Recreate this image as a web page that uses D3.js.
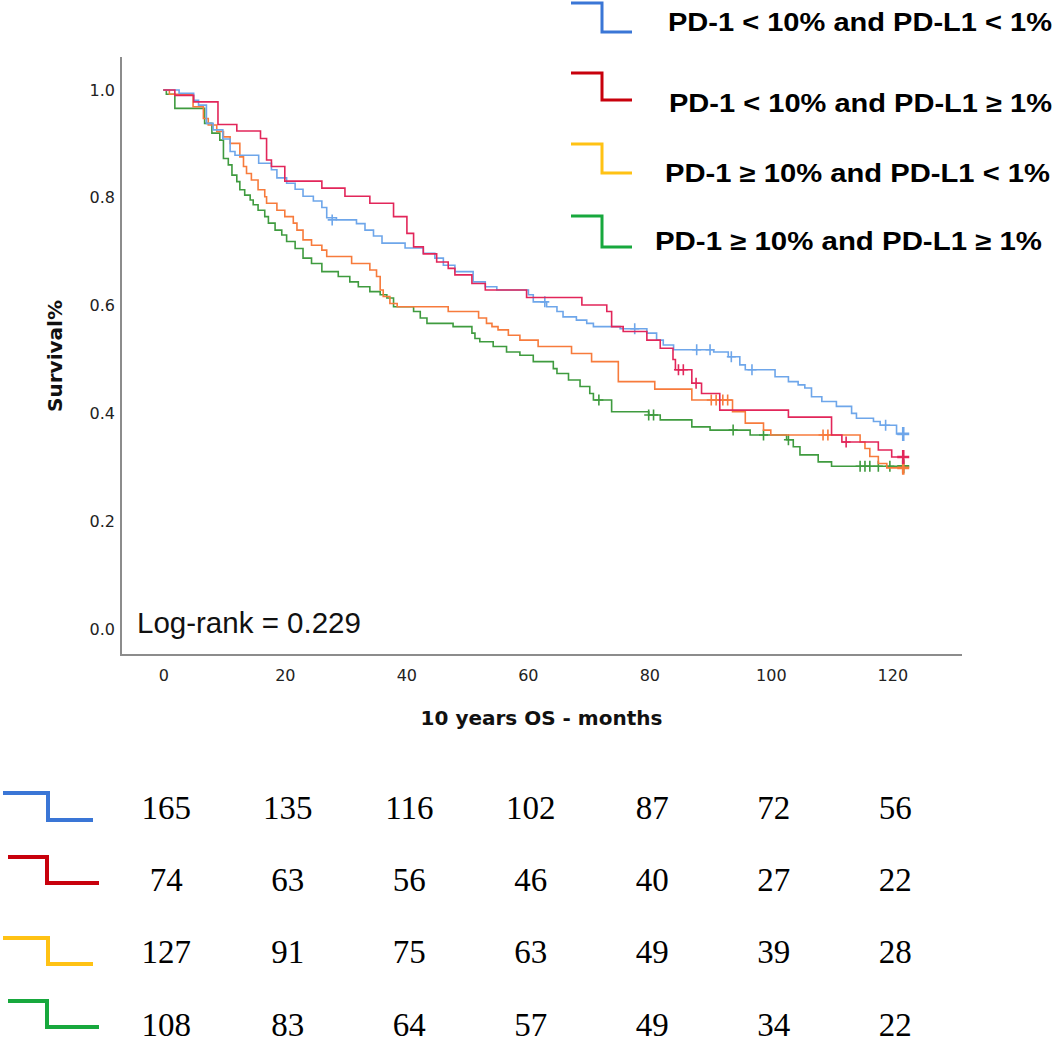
<!DOCTYPE html>
<html>
<head>
<meta charset="utf-8">
<script src="https://cdn.jsdelivr.net/npm/d3@7"></script>
<style>
  html, body { margin: 0; padding: 0; background: #fff; }
  svg { display: block; }
</style>
</head>
<body>
<script>
// groups (legend order)
const groups = [
  'PD-1 < 10% and PD-L1 < 1%',
  'PD-1 < 10% and PD-L1 ≥ 1%',
  'PD-1 ≥ 10% and PD-L1 < 1%',
  'PD-1 ≥ 10% and PD-L1 ≥ 1%'
]

// Kaplan-Meier steps: [month, survival after drop]
const blueSteps = [[0,1],[2.6,0.994],[5.0,0.981],[5.8,0.972],[7.1,0.938],[8.2,0.926],[9.8,0.909],[11.0,0.886],[11.8,0.879],[15.7,0.864],[17.8,0.852],[18.7,0.837],[20.3,0.827],[21.7,0.816],[23.0,0.803],[24.7,0.794],[26.1,0.782],[26.9,0.763],[28.5,0.759],[31.8,0.752],[33.2,0.740],[34.6,0.729],[36.0,0.716],[39.8,0.707],[42.8,0.697],[44.7,0.688],[46.1,0.675],[48.0,0.663],[51.0,0.644],[53.0,0.635],[54.9,0.629],[60.1,0.620],[60.9,0.607],[63.1,0.598],[64.8,0.589],[65.8,0.579],[68.0,0.573],[69.7,0.567],[70.8,0.561],[75.2,0.557],[79.6,0.549],[81.2,0.536],[82.3,0.527],[84.0,0.518],[90.6,0.514],[93.0,0.505],[94.9,0.490],[95.8,0.481],[100.7,0.468],[102.9,0.459],[104.5,0.453],[105.6,0.447],[106.7,0.431],[108.4,0.422],[110.8,0.413],[113.3,0.400],[114.1,0.391],[116.9,0.385],[118.0,0.378],[120.7,0.362]]
const redSteps = [[0,1],[1.9,0.990],[5.0,0.978],[9.0,0.936],[12.1,0.924],[16.0,0.910],[17.0,0.870],[17.8,0.858],[20.0,0.831],[26.1,0.818],[29.9,0.803],[34.0,0.790],[37.9,0.765],[40.1,0.734],[41.2,0.709],[42.8,0.696],[45.0,0.681],[46.9,0.669],[48.0,0.657],[50.8,0.641],[53.0,0.629],[59.8,0.615],[68.9,0.601],[73.0,0.589],[73.8,0.561],[75.7,0.552],[79.6,0.536],[81.8,0.521],[83.9,0.500],[84.3,0.481],[87.0,0.456],[88.6,0.437],[91.6,0.406],[102.9,0.393],[110.0,0.360],[111.7,0.347],[117.7,0.332],[119.9,0.319]]
const orangeSteps = [[0,1],[1.0,0.992],[4.9,0.969],[6.6,0.947],[7.4,0.935],[8.8,0.923],[9.9,0.913],[11.0,0.901],[12.6,0.876],[13.2,0.858],[13.7,0.845],[14.5,0.833],[15.6,0.815],[16.7,0.802],[17.0,0.790],[18.7,0.777],[20.0,0.765],[21.4,0.753],[22.0,0.740],[23.0,0.722],[24.4,0.712],[26.1,0.703],[26.9,0.691],[31.0,0.678],[34.0,0.666],[35.1,0.654],[35.7,0.629],[36.2,0.617],[37.3,0.604],[38.5,0.598],[46.9,0.589],[51.9,0.577],[53.2,0.567],[54.1,0.561],[55.1,0.555],[56.8,0.545],[58.7,0.536],[61.7,0.524],[67.2,0.511],[70.5,0.496],[74.9,0.459],[80.9,0.445],[87.0,0.425],[93.7,0.403],[95.8,0.382],[98.8,0.369],[100.0,0.360],[114.7,0.347],[115.5,0.335],[116.3,0.320],[117.7,0.307],[119.1,0.299]]
const greenSteps = [[0,1],[0.5,0.992],[1.9,0.966],[6.8,0.938],[8.0,0.920],[9.3,0.907],[9.9,0.873],[10.7,0.861],[11.3,0.842],[12.1,0.830],[12.6,0.815],[13.4,0.805],[14.3,0.796],[14.8,0.787],[15.6,0.777],[16.7,0.765],[17.3,0.753],[18.4,0.740],[19.5,0.731],[20.3,0.719],[21.7,0.706],[23.0,0.688],[24.4,0.678],[26.1,0.663],[28.8,0.654],[30.7,0.644],[32.1,0.635],[34.0,0.626],[35.7,0.620],[36.8,0.614],[37.9,0.598],[41.2,0.589],[42.3,0.577],[43.4,0.567],[47.7,0.561],[50.8,0.549],[51.3,0.539],[52.1,0.533],[54.3,0.524],[56.5,0.514],[58.7,0.508],[60.9,0.496],[64.2,0.483],[64.8,0.474],[66.7,0.462],[68.6,0.450],[70.2,0.437],[70.8,0.425],[73.8,0.403],[79.9,0.397],[81.8,0.388],[87.0,0.375],[90.0,0.369],[96.6,0.360],[102.6,0.351],[103.7,0.338],[104.8,0.323],[107.8,0.310],[110.0,0.302]]

// censored observations: [month, survival]
const blueCensored = [[27.8,0.759],[62.8,0.607],[77.6,0.557],[87.8,0.518],[90.0,0.518],[93.5,0.505],[96.9,0.481],[118.9,0.378],[121.8,0.362]]
const redCensored = [[84.8,0.481],[85.6,0.481],[87.7,0.456],[112.4,0.347],[121.8,0.319]]
const orangeCensored = [[90.2,0.425],[91.0,0.425],[92.1,0.425],[92.9,0.425],[108.6,0.360],[109.4,0.360],[121.8,0.299]]
const greenCensored = [[71.7,0.425],[79.9,0.397],[80.7,0.397],[93.8,0.369],[98.8,0.360],[102.9,0.351],[114.7,0.302],[115.5,0.302],[116.3,0.302],[117.7,0.302],[119.6,0.302],[121.8,0.302]]

const followUpEnd = [121.8, 121.8, 121.8, 121.8]

// numbers at risk
const riskTimes = [0, 20, 40, 60, 80, 100, 120]
const riskBlue = [165, 135, 116, 102, 87, 72, 56]
const riskRed = [74, 63, 56, 46, 40, 27, 22]
const riskOrange = [127, 91, 75, 63, 49, 39, 28]
const riskGreen = [108, 83, 64, 57, 49, 34, 22]

const xTicks = [0, 20, 40, 60, 80, 100, 120]
const yTicks = [0, 0.2, 0.4, 0.6, 0.8, 1.0]

const steps = [blueSteps, redSteps, orangeSteps, greenSteps]
const censored = [blueCensored, redCensored, orangeCensored, greenCensored]
const risk = [riskBlue, riskRed, riskOrange, riskGreen]

let curveColors = ['#6ea6ea', '#e2265a', '#f77b3c', '#3f9b3f']
let keyColors = ['#3a76d6', '#c8000c', '#ffc214', '#17a83d']

let width = 1063
let height = 1042
let frame = { left: 121, top: 57, right: 962, bottom: 655 }

let svg = d3.select('body').append('svg')
  .attr('width', width)
  .attr('height', height)

//scales
let xScale = d3.scaleLinear().domain([0, 120]).range([163.3, 892.3])
let yScale = d3.scaleLinear().domain([0, 1]).range([629, 90])

// axes lines
svg.append('path')
  .attr('d', `M${frame.left},${frame.top}V${frame.bottom}H${frame.right}`)
  .attr('fill', 'none')
  .attr('stroke', '#8c8c8c')
  .attr('stroke-width', 2)

let yAxis = svg.append('g')
  .attr('transform', `translate(${frame.left},0)`)
  .call(d3.axisLeft(yScale).tickValues(yTicks).tickFormat(d3.format('.1f')).tickSize(0).tickPadding(6))
yAxis.select('.domain').remove()
yAxis.selectAll('text')
  .attr('font-family', 'DejaVu Sans, sans-serif')
  .attr('font-size', 16)
  .attr('fill', '#222')

let xAxis = svg.append('g')
  .attr('transform', `translate(0,${frame.bottom})`)
  .call(d3.axisBottom(xScale).tickValues(xTicks).tickSize(0).tickPadding(15))
xAxis.select('.domain').remove()
xAxis.selectAll('text')
  .attr('font-family', 'DejaVu Sans, sans-serif')
  .attr('font-size', 16)
  .attr('fill', '#222')

// axis titles
svg.append('text')
  .attr('x', (frame.left + frame.right) / 2)
  .attr('y', 725)
  .attr('text-anchor', 'middle')
  .attr('font-family', 'DejaVu Sans, sans-serif')
  .attr('font-weight', 'bold')
  .attr('font-size', 20)
  .attr('fill', '#111')
  .text('10 years OS - months')

svg.append('text')
  .attr('transform', 'translate(62,356) rotate(-90)')
  .attr('text-anchor', 'middle')
  .attr('font-family', 'DejaVu Sans, sans-serif')
  .attr('font-weight', 'bold')
  .attr('font-size', 20)
  .attr('fill', '#111')
  .text('Survival%')

// curves (drawn so red ends on top)
let line = d3.line()
  .x(d => xScale(d[0]))
  .y(d => yScale(d[1]))
  .curve(d3.curveStepAfter)

let order = [3, 2, 0, 1]
order.forEach(i => {
  let pts = steps[i].concat([[followUpEnd[i], steps[i][steps[i].length - 1][1]]])
  svg.append('path')
    .datum(pts)
    .attr('d', line)
    .attr('fill', 'none')
    .attr('stroke', curveColors[i])
    .attr('stroke-width', 1.6)

  svg.append('g')
    .selectAll('path')
    .data(censored[i])
    .enter()
    .append('path')
    .attr('d', (d, j) => {
      let cx = xScale(d[0]), cy = yScale(d[1])
      let s = j === censored[i].length - 1 ? 6 : 4.5
      return `M${cx - s},${cy}H${cx + s}M${cx},${cy - s - 1}V${cy + s + 1}`
    })
    .attr('stroke', curveColors[i])
    .attr('stroke-width', (d, j) => j === censored[i].length - 1 ? 2.6 : 1.6)
    .attr('fill', 'none')
})

// log-rank note
svg.append('text')
  .attr('x', 137)
  .attr('y', 633)
  .attr('font-family', 'Liberation Sans, Arial, sans-serif')
  .attr('font-size', 29.5)
  .attr('fill', '#111')
  .text('Log-rank = 0.229')

// legend
let legendRows = [
  { top: 3, bottom: 32, base: 31, tx: 668, tw: 384 },
  { top: 73, bottom: 100, base: 112, tx: 669, tw: 383 },
  { top: 144, bottom: 173, base: 182, tx: 665, tw: 385 },
  { top: 216, bottom: 247, base: 250, tx: 655, tw: 387 }
]
let legend = svg.append('g')
groups.forEach((g, i) => {
  let r = legendRows[i]
  legend.append('path')
    .attr('d', `M571,${r.top}H602V${r.bottom}H632`)
    .attr('fill', 'none')
    .attr('stroke', keyColors[i])
    .attr('stroke-width', 3)
  legend.append('text')
    .attr('x', r.tx)
    .attr('y', r.base)
    .attr('font-family', 'Liberation Sans, Arial, sans-serif')
    .attr('font-weight', 'bold')
    .attr('font-size', 25)
    .attr('textLength', r.tw)
    .attr('lengthAdjust', 'spacingAndGlyphs')
    .attr('fill', '#000')
    .text(g)
})

// numbers at risk table
let riskRows = [
  { top: 793, bottom: 820, x0: 3, x1: 48, x2: 93, base: 819 },
  { top: 857, bottom: 883, x0: 8, x1: 47, x2: 99, base: 891 },
  { top: 938, bottom: 964, x0: 3, x1: 48, x2: 93, base: 963 },
  { top: 1001, bottom: 1027, x0: 8, x1: 47, x2: 99, base: 1036 }
]
risk.forEach((row, i) => {
  let r = riskRows[i]
  svg.append('path')
    .attr('d', `M${r.x0},${r.top}H${r.x1}V${r.bottom}H${r.x2}`)
    .attr('fill', 'none')
    .attr('stroke', keyColors[i])
    .attr('stroke-width', 4)
  svg.append('g')
    .selectAll('text')
    .data(row)
    .enter()
    .append('text')
    .attr('x', (d, j) => xScale(riskTimes[j]) + 3)
    .attr('y', r.base)
    .attr('text-anchor', 'middle')
    .attr('font-family', 'Liberation Serif, Times New Roman, serif')
    .attr('font-size', 33)
    .attr('fill', '#000')
    .text(d => d)
})
</script>
</body>
</html>
